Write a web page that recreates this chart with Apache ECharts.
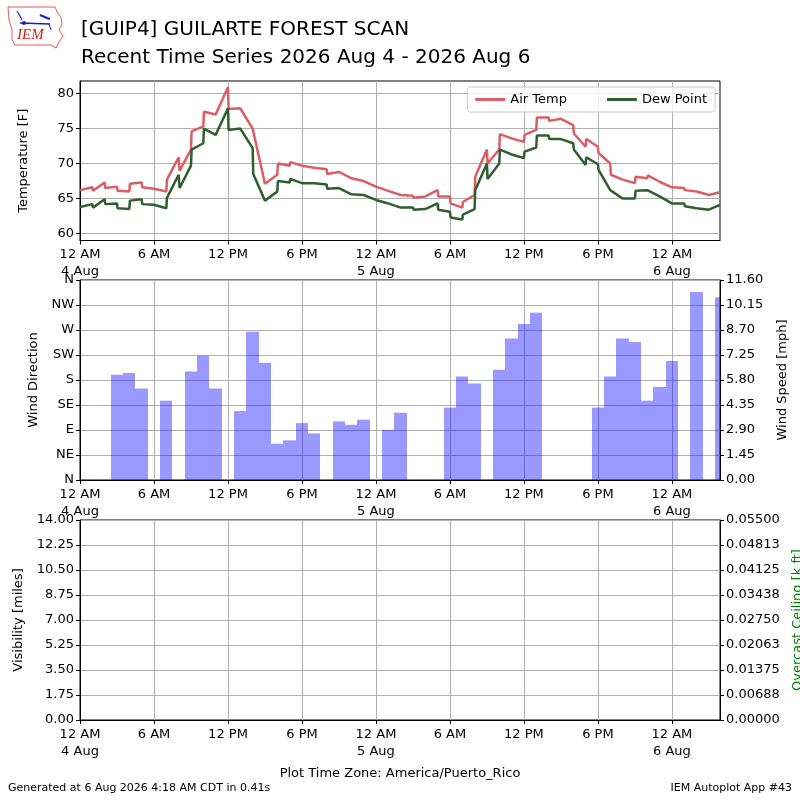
<!DOCTYPE html>
<html>
<head>
<meta charset="utf-8">
<script src="https://cdn.jsdelivr.net/npm/echarts@6/dist/echarts.min.js"></script>
<style>
html,body{margin:0;padding:0;background:#fff;}
#chart{width:800px;height:800px;}
</style>
</head>
<body>
<div id="chart"></div>
<script>
// hours since 4 Aug 12 AM (America/Puerto_Rico)
var obsHours = [0,1,1.05,2,2.05,3,3.05,4,4.05,5,5.05,6,7,7.05,8,8.08,9,9.05,10,10.05,11,12,12.05,13,14,14.05,15,16,16.05,17,17.05,18,19,20,20.05,21,22,23,24,25,26,27,27.05,28,29,29.05,30,30.05,31,31.05,32,32.05,33,33.05,34,34.05,35,36,36.05,37,37.05,38,38.05,39,40,40.05,41,41.05,42,42.05,43,43.05,44,45,45.05,46,46.05,47,48,49,49.05,50,50.05,51,51.9];
var airTemp = [66.2,66.6,66.1,67.3,66.5,66.7,66.1,66.0,67.1,67.3,66.6,66.4,66.0,67.7,70.9,69.0,72.0,74.6,75.3,77.4,77.0,80.9,77.8,77.9,75.0,75.0,67.1,68.4,70.0,69.7,70.2,69.7,69.4,69.2,68.5,68.8,67.9,67.5,66.7,66.1,65.5,65.4,65.1,65.3,66.2,65.3,65.3,64.3,63.7,64.5,65.5,68.1,72.0,70.0,72.0,74.2,73.6,73.1,74.1,74.8,76.6,76.6,76.1,76.4,75.5,74.3,72.4,73.5,72.4,71.5,70.0,68.4,67.7,67.2,68.1,67.9,68.3,67.4,66.6,66.5,66.2,66.0,66.2,65.5,65.9];
var dewPoint = [63.8,64.2,63.7,64.9,64.2,64.3,63.6,63.5,64.7,64.9,64.2,64.1,63.6,65.1,68.4,66.5,69.7,72.0,72.9,75.0,74.1,77.9,74.8,75.0,72.2,68.5,64.7,66.0,67.5,67.3,67.8,67.2,67.2,67.0,66.4,66.5,65.6,65.5,64.8,64.3,63.7,63.7,63.4,63.5,64.3,63.4,63.1,62.3,62.0,62.7,63.5,66.2,70.0,67.8,70.0,72.0,71.3,70.8,71.7,72.3,74.0,74.0,73.5,73.5,72.9,72.0,69.8,70.9,69.9,69.1,66.2,66.2,65.0,65.0,66.1,66.2,66.2,65.3,64.3,64.3,63.9,63.6,63.6,63.4,64.1];

var windHours = [3,4,5,7,9,10,11,13,14,15,16,17,18,19,21,22,23,25,26,30,31,32,34,35,36,37,42,43,44,45,46,47,48,50,52];
var windSpeed = [6.1,6.2,5.3,4.6,6.3,7.2,5.3,4.0,8.6,6.8,2.1,2.3,3.3,2.7,3.4,3.2,3.5,2.9,3.9,4.2,6.0,5.6,6.4,8.2,9.05,9.7,4.2,6.0,8.2,8.0,4.6,5.4,6.9,10.9,10.6];

var dirLabels = ['N','NE','E','SE','S','SW','W','NW','N'];
var tempTicks = [60,65,70,75,80];
var timeTicks = [0,6,12,18,24,30,36,42,48];

var FONT = 'DejaVu Sans';
var myChart = echarts.init(document.getElementById('chart'));

function timeLabel(v){
    if (v % 6 !== 0) return '';
    var hod = v % 24;
    var s = hod === 0 ? '12 AM' : (hod === 6 ? '6 AM' : (hod === 12 ? '12 PM' : '6 PM'));
    if (hod === 0) s += '\n' + (4 + v / 24) + ' Aug';
    return s;
}

function xAxisFor(idx){
    return {
        type: 'value', gridIndex: idx, min: 0, max: 51.9, interval: 6,
        axisLine: {lineStyle: {color: '#000'}},
        axisTick: {customValues: timeTicks, length: 4, lineStyle: {color: '#000'}},
        axisLabel: {customValues: timeTicks, formatter: timeLabel, color: '#000', fontFamily: FONT, fontSize: 13, lineHeight: 17, margin: 6},
        splitLine: {show: true, lineStyle: {color: '#b0b0b0', width: 1}}
    };
}

var yBase = {
    axisLine: {show: true, lineStyle: {color: '#000'}},
    axisTick: {show: true, length: 4, lineStyle: {color: '#000'}},
    nameLocation: 'middle', nameRotate: 90,
    nameTextStyle: {color: '#000', fontFamily: FONT, fontSize: 13}
};
function yAxis(o){ return Object.assign({}, yBase, o); }

// hourly bar, one hour wide, clipped to the panel; edges snapped so neighbours meet cleanly
function windBar(params, api){
    var h = api.value(0), v = api.value(1);
    var p0 = api.coord([h - 0.5, v]);
    var p1 = api.coord([h + 0.5, 0]);
    var x0 = Math.round(p0[0]), x1 = Math.round(p1[0]);
    var cs = params.coordSys;
    var rect = echarts.graphic.clipRectByRect(
        {x: x0, y: p0[1], width: x1 - x0, height: p1[1] - p0[1]},
        {x: cs.x, y: cs.y, width: cs.width, height: cs.height});
    return rect && {type: 'rect', shape: rect, style: {fill: 'rgba(0,0,255,0.4)'}};
}

var option = {
    animation: false,
    textStyle: {fontFamily: FONT},
    title: [
        {text: '[GUIP4] GUILARTE FOREST SCAN', left: 76, top: 15, textStyle: {fontFamily: FONT, fontSize: 20, fontWeight: 'normal', color: '#000'}},
        {text: 'Recent Time Series 2026 Aug 4 - 2026 Aug 6', left: 76, top: 43, textStyle: {fontFamily: FONT, fontSize: 20, fontWeight: 'normal', color: '#000'}}
    ],
    legend: {
        right: 85, top: 87, data: ['Air Temp', 'Dew Point'],
        icon: 'rect', itemWidth: 30, itemHeight: 3, itemGap: 40,
        borderColor: '#cccccc', borderWidth: 1, borderRadius: 3, padding: [6, 8],
        backgroundColor: 'rgba(255,255,255,0.8)',
        textStyle: {fontFamily: FONT, fontSize: 13, color: '#000'}
    },
    grid: [
        {left: 80, right: 80, top: 81, height: 159.5, show: true, borderColor: '#000', borderWidth: 1, outerBoundsMode: 'none'},
        {left: 80, right: 80, top: 280, height: 200, show: true, borderColor: '#000', borderWidth: 1, outerBoundsMode: 'none'},
        {left: 80, right: 80, top: 520, height: 200, show: true, borderColor: '#000', borderWidth: 1, outerBoundsMode: 'none'}
    ],
    xAxis: [xAxisFor(0), xAxisFor(1), xAxisFor(2)],
    yAxis: [
        yAxis({type: 'value', gridIndex: 0, min: 59, max: 81.8, name: 'Temperature [F]', nameGap: 50,
            axisTick: {show: true, customValues: tempTicks, length: 4, lineStyle: {color: '#000'}},
            axisLabel: {customValues: tempTicks, color: '#000', fontFamily: FONT, fontSize: 13, margin: 6},
            splitLine: {show: true, lineStyle: {color: '#b0b0b0'}}}),
        yAxis({type: 'value', gridIndex: 1, min: 0, max: 360, interval: 45, name: 'Wind Direction', nameGap: 40,
            axisLabel: {formatter: function(v){ return dirLabels[Math.round(v / 45)]; }, color: '#000', fontFamily: FONT, fontSize: 13, margin: 6},
            splitLine: {show: true, lineStyle: {color: '#b0b0b0'}}}),
        yAxis({type: 'value', gridIndex: 1, position: 'right', min: 0, max: 11.6, interval: 1.45, name: 'Wind Speed [mph]', nameGap: 56,
            axisLabel: {formatter: function(v){ return (v + 1e-9).toFixed(2); }, color: '#000', fontFamily: FONT, fontSize: 13, margin: 6},
            splitLine: {show: false}}),
        yAxis({type: 'value', gridIndex: 2, min: 0, max: 14, interval: 1.75, name: 'Visibility [miles]', nameGap: 55,
            axisLabel: {formatter: function(v){ return (v + 1e-9).toFixed(2); }, color: '#000', fontFamily: FONT, fontSize: 13, margin: 6},
            splitLine: {show: true, lineStyle: {color: '#b0b0b0'}}}),
        yAxis({type: 'value', gridIndex: 2, position: 'right', min: 0, max: 0.055, interval: 0.006875, name: 'Overcast Ceiling [k ft]', nameGap: 70,
            nameTextStyle: {color: 'green', fontFamily: FONT, fontSize: 13},
            axisLabel: {formatter: function(v){ return (v + 1e-9).toFixed(5); }, color: '#000', fontFamily: FONT, fontSize: 13, margin: 6},
            splitLine: {show: false}})
    ],
    series: [
        {name: 'Air Temp', type: 'line', xAxisIndex: 0, yAxisIndex: 0, showSymbol: false, color: '#dc5d63',
            lineStyle: {width: 2.5, color: '#dc5d63'},
            data: obsHours.map(function(h, i){ return [h, airTemp[i]]; })},
        {name: 'Dew Point', type: 'line', xAxisIndex: 0, yAxisIndex: 0, showSymbol: false, color: '#2f5f2f',
            lineStyle: {width: 2.5, color: '#2f5f2f'},
            data: obsHours.map(function(h, i){ return [h, dewPoint[i]]; })},
        {name: 'Wind Speed', type: 'custom', xAxisIndex: 1, yAxisIndex: 2, renderItem: windBar,
            encode: {x: 0, y: 1},
            data: windHours.map(function(h, i){ return [h, windSpeed[i]]; })}
    ],
    graphic: [
        {type: 'polyline', shape: {points: [[8,7],[55,7],[57,12],[61,17],[62,24],[59,30],[63,36],[59,42],[56,48],[51,45],[15,45],[12,40],[12,30],[9,20],[8,7]]},
            style: {stroke: '#e03030', lineWidth: 0.8, fill: null}},
        {type: 'polyline', shape: {points: [[20,23],[50,24]]}, style: {stroke: '#1a1ad0', lineWidth: 1.5}},
        {type: 'polyline', shape: {points: [[17,11],[20,16],[22,20]]}, style: {stroke: '#1a1ad0', lineWidth: 1.2}},
        {type: 'polyline', shape: {points: [[40,15],[47,18],[50,19]]}, style: {stroke: '#1a1ad0', lineWidth: 2}},
        {type: 'polyline', shape: {points: [[49,24],[51,30]]}, style: {stroke: '#1a1ad0', lineWidth: 1}},
        {type: 'circle', shape: {cx: 24, cy: 23, r: 2}, style: {fill: '#1a1ad0'}},
        {type: 'text', left: 17, top: 28, style: {text: 'IEM', fill: '#d62020', font: 'italic 15px "Liberation Serif", serif'}},
        {type: 'text', left: 'center', top: 767, style: {text: 'Plot Time Zone: America/Puerto_Rico', fill: '#000', font: '13px "DejaVu Sans"'}},
        {type: 'text', left: 8, top: 783, style: {text: 'Generated at 6 Aug 2026 4:18 AM CDT in 0.41s', fill: '#000', font: '11px "DejaVu Sans"'}},
        {type: 'text', right: 8, top: 783, style: {text: 'IEM Autoplot App #43', fill: '#000', font: '11px "DejaVu Sans"'}}
    ]
};
myChart.setOption(option);
</script>
</body>
</html>
